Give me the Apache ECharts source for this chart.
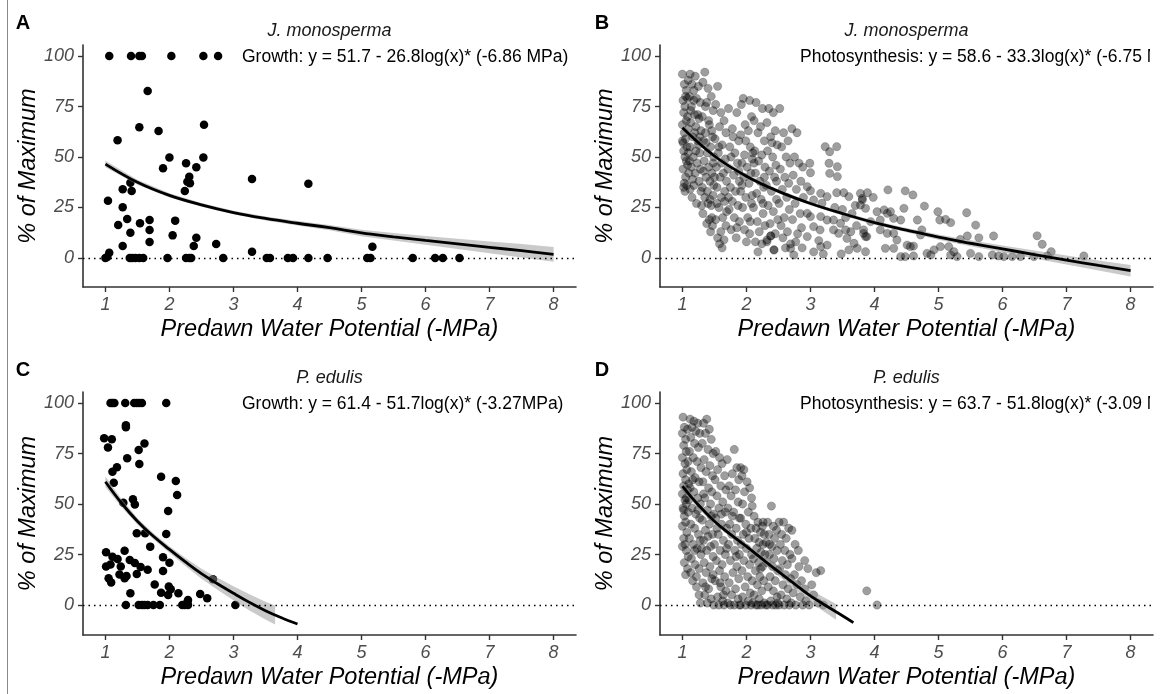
<!DOCTYPE html>
<html><head><meta charset="utf-8">
<script src="https://cdn.jsdelivr.net/npm/echarts@6/dist/echarts.min.js"></script>
<style>html,body{margin:0;padding:0;background:#fff}#c{width:1160px;height:694px}</style>
</head><body><div id="c"></div>
<script>
// ---------- text & ticks ----------
const xTicks = [1,2,3,4,5,6,7,8];
const yTicks = [0,25,50,75,100];
const panelTags = ['A','B','C','D'];
const speciesTitles = ['J. monosperma','J. monosperma','P. edulis','P. edulis'];
const fitLabels = [
  'Growth: y = 51.7 - 26.8log(x)* (-6.86 MPa)',
  'Photosynthesis: y = 58.6 - 33.3log(x)* (-6.75 MPa)',
  'Growth: y = 61.4 - 51.7log(x)* (-3.27MPa)',
  'Photosynthesis: y = 63.7 - 51.8log(x)* (-3.09 MPa)'
];
const xTitle = 'Predawn Water Potential (-MPa)';
const yTitle = '% of Maximum';

// ---------- data: [water potential, % of max] ----------
const jmGrowth = [
[1.06,100],[1.40,100],[1.53,100],[1.57,100],[2.03,100],[2.53,100],[2.76,100],
[1.66,82.7],[1.53,64.7],[1.83,62.9],[2.54,66],[1.19,58.3],[2.0,49.8],[2.53,49.8],[1.90,44.4],[2.26,46.9],
[2.42,44.9],[2.31,40.2],[2.28,37.8],[2.32,37],[2.24,33.2],[3.29,39.1],[4.17,36.8],[1.39,37.3],[1.27,34],
[1.41,33.2],[1.04,28.4],[1.27,25.1],[1.20,16.3],[1.34,19.3],[1.54,17.2],[1.69,18.8],[1.69,13.9],[2.09,18.5],
[1.39,12.5],[2.05,11.2],[1.69,7.9],[2.42,10],[2.38,5.9],[2.73,6.9],[1.27,5.9],[3.29,3.1],[5.17,5.6],[1.06,2.6],[1.03,0.5],
[1.0,0],[1.38,0],[1.42,0],[1.47,0],[1.53,0],[1.59,0],[1.97,0],[2.26,0],[2.31,0],[2.34,0],[2.84,0],[3.52,0],
[3.57,0],[3.85,0],[3.93,0],[4.17,0],[4.47,0],[5.09,0],[5.14,0],[5.80,0],[6.15,0],[6.27,0],[6.53,0]
];
const jmPhoto = [
[1.00,91],[1.03,86],[1.05,80],[1.01,78],[1.04,75],[1.02,72],[1.06,68],[1.00,66],[1.03,62],[1.05,59],[1.01,57],[1.07,55],
[1.02,53],[1.04,50],[1.08,46],[1.01,44],[1.05,40],[1.03,37],[1.07,36],[1.02,35],[1.09,88],[1.06,83],[1.08,70],[1.09,64],
[1.00,58],[1.09,52],[1.06,48],[1.10,42],[1.04,33],[1.08,79],
[1.12,91],[1.20,90],[1.15,86],[1.25,85],[1.18,83],[1.11,80],[1.22,79],[1.28,77],[1.14,75],[1.19,71],[1.26,69],[1.13,67],
[1.21,65],[1.29,63],[1.16,60],[1.24,58],[1.12,55],[1.27,52],[1.17,50],[1.23,47],[1.14,45],[1.20,42],[1.26,38],[1.18,36],
[1.29,33],[1.15,30],[1.22,27],[1.13,73],[1.19,62],[1.25,56],[1.11,48],[1.28,44],[1.16,39],[1.21,53],[1.24,71],[1.18,78],
[1.27,60],[1.12,34],
[1.35,92],[1.32,87],[1.40,84],[1.45,80],[1.38,77],[1.48,73],[1.31,70],[1.42,66],[1.36,62],[1.47,60],[1.33,58],[1.44,55],
[1.39,52],[1.49,50],[1.34,48],[1.41,45],[1.46,42],[1.37,40],[1.43,38],[1.31,35],[1.48,31],[1.35,30],[1.40,27],[1.45,26],
[1.32,22],[1.42,19],[1.38,17],[1.47,16],[1.44,13],[1.36,75],[1.41,68],[1.46,63],[1.33,43],[1.49,36],[1.39,33],[1.43,29],
[1.30,26],[1.46,20],[1.37,57],[1.48,47],
[1.55,85],[1.52,76],[1.60,72],[1.65,68],[1.58,65],[1.68,62],[1.51,59],[1.62,56],[1.56,52],[1.67,49],[1.53,45],[1.64,42],
[1.59,40],[1.69,38],[1.54,35],[1.61,30],[1.66,28],[1.57,25],[1.63,20],[1.52,19],[1.68,16],[1.60,13],[1.55,10],[1.65,9],
[1.58,7],[1.62,5],[1.50,40],[1.66,33],[1.54,27],[1.69,23],[1.61,47],[1.57,55],
[1.72,74],[1.85,72],[1.78,64],[1.88,58],[1.74,55],[1.82,52],[1.76,50],[1.86,47],[1.71,44],[1.80,41],[1.89,38],[1.75,35],
[1.83,33],[1.78,28],[1.87,26],[1.73,24],[1.81,20],[1.89,18],[1.76,14],[1.84,10],[1.79,60],[1.88,43],[1.72,30],[1.85,15],
[1.95,79],[2.05,78],[1.92,76],[2.08,70],[1.98,66],[2.03,63],[1.91,61],[2.06,55],[1.97,51],[2.09,49],[1.93,47],[2.01,45],
[2.07,42],[1.96,40],[2.04,37],[1.91,33],[1.99,30],[2.08,27],[1.94,25],[2.02,20],[2.06,18],[1.97,14],[2.05,12],[2.00,8],
[2.10,52],[1.93,36],[2.09,31],[1.99,58],
[2.15,77],[2.25,74],[2.12,68],[2.22,65],[2.18,62],[2.28,58],[2.13,53],[2.24,51],[2.19,48],[2.29,45],[2.14,42],[2.21,38],
[2.27,35],[2.16,32],[2.23,29],[2.11,25],[2.26,22],[2.17,18],[2.29,16],[2.20,13],[2.14,8],[2.24,7],[2.18,3],[2.28,40],
[2.12,47],[2.26,27],
[2.35,74],[2.42,72],[2.32,67],[2.45,63],[2.38,60],[2.48,56],[2.33,53],[2.41,50],[2.46,46],[2.36,43],[2.44,40],[2.31,36],
[2.39,33],[2.47,29],[2.34,26],[2.42,23],[2.49,19],[2.37,17],[2.45,12],[2.32,8],[2.38,11],[2.43,4],[2.40,57],[2.47,38],
[2.52,74],[2.58,62],[2.65,58],[2.55,55],[2.62,50],[2.68,47],[2.53,44],[2.60,40],[2.66,37],[2.56,34],[2.63,30],[2.51,27],
[2.67,24],[2.59,20],[2.54,16],[2.64,13],[2.57,10],[2.69,7],[2.61,5],[2.74,1.5],[2.69,4.8],[2.71,64],[2.79,62],
[2.75,50],[2.82,47],[2.88,45],[2.73,41],[2.85,38],[2.78,34],[2.89,30],[2.76,27],[2.84,22],[2.72,19],[2.86,15],[2.80,12],
[2.77,8],[2.87,5],
[2.99,46.9],[3.0,42.2],[3.23,55.1],[3.30,52.6],[3.41,55.1],[3.29,46.9],[3.42,45.2],[3.30,41.9],[3.42,40.3],[2.95,35.3],
[3.0,33.3],[3.16,32],[3.26,30.4],[3.41,32.3],[3.52,32.3],[3.60,30.4],[3.81,28.7],[3.05,28.7],[3.18,27.1],[2.95,22.1],
[3.0,20.5],[3.16,20.5],[3.26,18.8],[3.36,18.8],[3.47,17.2],[3.55,13.9],[3.63,13],[3.83,12.2],[3.88,10.6],[3.36,13.9],
[3.44,12.2],[3.05,15.5],[3.15,13.9],[2.95,10.6],[3.13,8.6],[3.26,6.4],[3.16,5.6],[3.57,9.7],[3.68,7.3],[3.60,4],
[3.73,4.8],[3.86,3.1],[2.43,4],[2.32,8.9],[2.38,10.9],[3.50,24],[3.65,22],[3.70,26],[3.38,25],[3.55,20],[3.72,16],
[3.48,2],[3.20,2],[3.05,3],
[3.89,32.3],[3.98,30],[4.21,33.7],[4.48,33.2],[4.60,31.2],[4.78,25.7],[4.99,22.9],[5.44,22.4],[5.58,16.3],[5.02,18.8],
[5.11,19.1],[5.19,17.5],[6.54,11],[6.62,6.8],[6.76,3.1],[7.27,1],[5.86,10.9],[5.63,10],[5.45,10.9],[5.34,9.2],
[4.04,22.9],[4.15,23.8],[4.20,22.1],[4.25,22.9],[4.30,19.6],[4.09,18.8],[3.94,18],[3.83,13.9],[3.86,10.6],[4.09,13.9],
[4.20,12.2],[4.30,12.2],[4.35,8.9],[4.17,4.8],[4.30,4.8],[4.51,6.4],[4.56,5.6],[4.61,5.9],[4.74,13.9],[4.72,11.4],
[4.82,2.3],[4.88,1.5],[4.41,0.7],[4.48,0.7],[4.61,1],[4.93,4],[5.03,5.6],[5.16,5.6],[5.19,1.5],[5.24,3.1],[5.29,0.7],
[5.50,2.3],[5.63,0.7],[5.84,1.5],[5.94,1],[6.02,0.7],[6.15,0.7],[6.28,0.7],[6.49,0.7],[6.70,1],[4.46,24.6],[4.41,18.8],
[4.67,18.8],[3.86,24.6],[3.78,32],[3.81,29.5],[3.78,26.2]
];
const peGrowth = [
[1.08,100],[1.11,100],[1.14,100],[1.31,100],[1.45,100],[1.49,100],[1.53,100],[1.57,100],[1.95,100],
[1.32,89],[1.32,88],[0.98,82.5],[1.10,82],[1.04,78],[1.61,80],[1.52,76.7],[1.34,72.6],[1.53,69.8],[1.18,68.2],[1.11,66],
[1.13,60.5],[1.87,63.5],[2.10,61.4],[2.12,54.5],[1.98,46.5],[1.28,50.6],[1.43,52.3],[1.46,49.7],[1.49,35.5],[1.62,35.5],
[1.95,35.1],[1.70,28.9],[1.01,26.1],[1.11,23.9],[1.30,26.9],[1.19,22.8],[1.38,22.3],[1.01,19.1],[1.08,20.1],[1.24,19.1],
[1.46,20.8],[1.55,18.8],[1.66,17.4],[1.90,23.6],[2.0,20.9],[1.90,16.8],[1.05,13.2],[1.09,11.2],[1.22,15.1],[1.33,14.3],
[1.30,13.2],[1.49,15.3],[1.39,5.8],[1.77,10.2],[1.87,6.1],[1.99,9.1],[2.02,7.8],[1.98,5.0],[2.14,5.8],[2.48,5.4],
[2.59,3.3],[2.68,12.7],[2.29,2.5],[2.28,1.5],
[1.32,0],[1.52,0],[1.57,0],[1.61,0],[1.66,0],[1.75,0],[1.85,0],[2.20,0],[2.24,0],[2.29,0],[3.03,0]
];
const pePhoto = [
[1.01,93],[1.03,88],[1.00,85],[1.05,82],[1.02,79],[1.06,76],[1.00,73],[1.04,70],[1.07,67],[1.01,65],[1.05,62],[1.02,59],
[1.08,57],[1.00,55],[1.04,52],[1.06,50],[1.01,48],[1.09,46],[1.03,44],[1.05,41],[1.00,39],[1.07,36],[1.02,33],[1.04,30],
[1.00,29],[1.06,27],[1.09,24],[1.03,21],[1.08,18],[1.05,15],[1.10,60],[1.09,71],[1.08,87],[1.06,53],[1.02,47],
[1.12,92],[1.18,91],[1.24,90],[1.15,88],[1.21,86],[1.27,85],[1.13,83],[1.19,80],[1.25,78],[1.11,76],[1.17,73],[1.23,71],
[1.29,68],[1.14,66],[1.20,63],[1.26,61],[1.12,58],[1.18,56],[1.24,53],[1.28,50],[1.15,48],[1.21,45],[1.27,43],[1.13,40],
[1.19,38],[1.25,35],[1.11,33],[1.17,30],[1.23,28],[1.29,25],[1.14,23],[1.20,20],[1.26,18],[1.13,16],[1.16,12],[1.22,9],
[1.28,1],[1.26,5],[1.19,27],[1.24,47],[1.16,62],[1.28,32],[1.22,14],[1.10,52],
[1.38,92],[1.33,90],[1.42,87],[1.36,85],[1.45,82],[1.31,80],[1.40,77],[1.48,75],[1.34,72],[1.43,69],[1.37,66],[1.47,64],
[1.32,61],[1.41,58],[1.46,56],[1.35,53],[1.44,50],[1.39,47],[1.49,45],[1.31,42],[1.42,40],[1.36,37],[1.47,35],[1.33,32],
[1.44,29],[1.38,27],[1.48,24],[1.34,21],[1.43,19],[1.37,16],[1.46,13],[1.32,11],[1.41,8],[1.35,5],[1.45,3],[1.39,1],
[1.49,0],[1.30,28],[1.40,34],[1.45,44],[1.33,55],[1.48,15],[1.36,9],
[1.52,76],[1.58,73],[1.62,70],[1.55,67],[1.66,64],[1.51,62],[1.60,59],[1.68,57],[1.54,54],[1.63,51],[1.57,48],[1.67,46],
[1.52,43],[1.61,40],[1.69,38],[1.56,35],[1.64,32],[1.50,30],[1.59,27],[1.67,25],[1.53,22],[1.62,20],[1.58,17],[1.66,14],
[1.51,12],[1.60,9],[1.68,7],[1.55,4],[1.63,2],[1.57,0],[1.65,0],[1.70,72],[1.69,28],[1.54,38],[1.61,45],[1.64,5],[1.59,11],
[1.81,77],[1.85,68],[1.91,68],[1.78,65],[1.88,62],[1.73,59],[1.83,57],[1.76,54],[1.87,51],[1.71,48],[1.80,46],[1.89,43],
[1.74,40],[1.84,38],[1.77,35],[1.86,32],[1.72,30],[1.82,27],[1.89,25],[1.75,22],[1.85,19],[1.79,16],[1.88,13],[1.73,11],
[1.83,8],[1.77,5],[1.87,3],[1.71,1],[1.81,0],[1.89,0],[1.75,0],[1.84,24],[1.78,44],
[1.96,67],[1.93,64],[2.01,61],[2.05,58],[1.97,56],[2.08,53],[1.94,50],[2.09,49],[2.03,46],[1.91,43],[1.99,40],[2.07,38],
[1.95,35],[2.04,33],[1.92,30],[2.00,28],[2.08,25],[1.96,22],[2.05,20],[1.93,17],[2.02,14],[2.09,12],[1.98,9],[2.06,6],
[1.94,4],[2.03,2],[1.91,0],[1.99,0],[2.07,0],[2.10,1],[2.00,36],
[2.12,44],[2.18,41],[2.25,39],[2.15,38],[2.22,36],[2.28,35],[2.13,33],[2.20,31],[2.26,30],[2.16,28],[2.23,26],[2.29,25],
[2.11,23],[2.19,21],[2.25,19],[2.14,17],[2.21,14],[2.27,12],[2.17,10],[2.24,7],[2.12,5],[2.20,3],[2.28,1],[2.15,0],
[2.23,0],[2.30,0],[2.18,0],[2.26,41],[2.22,18],
[2.39,49],[2.33,41],[2.42,39],[2.47,37],[2.35,35],[2.44,33],[2.31,31],[2.40,29],[2.48,27],[2.36,25],[2.43,23],[2.32,21],
[2.41,19],[2.49,17],[2.37,14],[2.45,12],[2.34,9],[2.42,7],[2.48,4],[2.38,2],[2.33,0],[2.41,0],[2.46,0],[2.49,1],[2.36,30],
[2.51,41],[2.58,41],[2.66,38],[2.55,35],[2.62,33],[2.53,30],[2.60,27],[2.68,25],[2.56,22],[2.64,20],[2.52,18],[2.61,15],
[2.69,13],[2.57,10],[2.65,8],[2.54,5],[2.63,3],[2.59,0],[2.67,0],[2.51,0],[2.70,1],
[2.71,37],[2.71,23],[2.91,22],[2.82,19],[2.96,18],[2.75,15],[2.86,12],[2.79,10],[2.91,8],[2.73,6],[2.84,4],[2.93,2],
[2.77,0],[2.88,0],[2.98,0],[2.81,27],[2.76,30],
[3.09,16],[3.16,17],[3.05,5],[3.12,1],[3.20,0],[3.02,10],[3.88,7],[4.04,0]
];

// fitted curves [x, y] and confidence bands [x, lower, upper]
const jmGrowthFit = [[1,46.5],[1.5,37.5],[2,31],[2.5,26.3],[3,22.5],[3.5,19.6],[4,17.2],[4.5,15],[5,12.4],[5.5,10.5],[6,8.7],[6.5,7.0],[7,5.3],[7.5,3.6],[8,1.8]];
const jmGrowthBand = [[1,44.9,48.1],[1.5,36.3,38.7],[2,30,32],[2.5,25.4,27.2],[3,21.6,23.4],[3.5,18.6,20.6],[4,16.1,18.3],[4.5,13.7,16.3],[5,10.8,14.0],[5.5,8.6,12.4],[6,6.5,10.9],[6.5,4.5,9.5],[7,2.4,8.2],[7.5,0.3,6.9],[8,-1.8,5.4]];
const jmPhotoFit = [[1,64.5],[1.5,50.5],[2,40.5],[2.5,33],[3,27],[3.5,22],[4,17.5],[4.5,13.8],[5,10.3],[5.5,7.3],[6,4.5],[6.5,1.7],[7,-1],[7.5,-3.7],[8,-6.3]];
const jmPhotoBand = [[1,62.7,66.3],[1.5,49.3,51.7],[2,39.5,41.5],[2.5,32.1,33.9],[3,26.1,27.9],[3.5,21.1,22.9],[4,16.5,18.5],[4.5,12.7,14.9],[5,9.0,11.6],[5.5,5.8,8.8],[6,2.8,6.2],[6.5,-0.3,3.7],[7,-3.2,1.2],[7.5,-6.2,-1.2],[8,-9.1,-3.5]];
const peGrowthFit = [[1,61],[1.25,50.5],[1.5,41.5],[1.75,34],[2,27.5],[2.25,21.3],[2.5,15.5],[2.75,10.5],[3,5.8],[3.25,1.3],[3.5,-2.8],[3.75,-6.3],[4,-9.4]];
const peGrowthBand = [[1,58.4,63.6],[1.25,48.5,52.5],[1.5,39.9,43.1],[1.75,32.5,35.5],[2,25.9,29.1],[2.25,19.3,23.3],[2.5,13.0,18.0],[2.75,7.5,13.5],[3,2.3,9.3],[3.25,-2.7,5.3],[3.5,-7.2,1.6],[3.65,-9.6,-0.2]];
const pePhotoFit = [[1,58.9],[1.25,49.5],[1.5,41.5],[1.75,35],[2,29],[2.25,22.7],[2.5,16.5],[2.75,10.5],[3,4.5],[3.25,-0.5],[3.5,-5.3],[3.67,-8.7]];
const pePhotoBand = [[1,56.6,61.2],[1.25,47.7,51.3],[1.5,40,43],[1.75,33.7,36.3],[2,27.6,30.4],[2.25,21,24.4],[2.5,14.4,18.6],[2.75,7.9,13.1],[3,1.4,7.6],[3.25,-4.1,3.1],[3.4,-7.3,0.5]];

// ---------- layout ----------
const FONT = '"Liberation Sans", Arial, Helvetica, sans-serif';
const panels = [
  {left:83,  top:45,  height:242, ymin:-14.36, ymax:105.45, pts:jmGrowth, fit:jmGrowthFit, band:jmGrowthBand, solid:true},
  {left:660, top:45,  height:242, ymin:-14.36, ymax:105.45, pts:jmPhoto,  fit:jmPhotoFit,  band:jmPhotoBand,  solid:false},
  {left:83,  top:392, height:243, ymin:-14.85, ymax:105.45, pts:peGrowth, fit:peGrowthFit, band:peGrowthBand, solid:true},
  {left:660, top:392, height:243, ymin:-14.85, ymax:105.45, pts:pePhoto,  fit:pePhotoFit,  band:pePhotoBand,  solid:false}
];
const PW = 493;

const grid=[], xAxis=[], yAxis=[], series=[], graphic=[];
panels.forEach((p,i)=>{
  grid.push({left:p.left, top:p.top, width:PW, height:p.height});
  const axLine = {show:true, onZero:false, lineStyle:{color:'#333', width:1.6}};
  const axTick = {show:true, length:5, lineStyle:{color:'#333', width:1.4}};
  const lab = {color:'#4d4d4d', fontSize:18, fontStyle:'italic', fontFamily:FONT};
  xAxis.push({type:'value', gridIndex:i, min:0.65, max:8.35, axisLine:axLine,
    axisTick:Object.assign({customValues:xTicks}, axTick),
    axisLabel:Object.assign({customValues:xTicks, margin:9}, lab), splitLine:{show:false}});
  yAxis.push({type:'value', gridIndex:i, min:p.ymin, max:p.ymax, axisLine:axLine,
    axisTick:Object.assign({customValues:yTicks}, axTick),
    axisLabel:Object.assign({customValues:yTicks, margin:9}, lab), splitLine:{show:false}});
  series.push({type:'scatter', xAxisIndex:i, yAxisIndex:i, data:p.pts, symbolSize:p.solid?8.5:8.3,
    itemStyle: p.solid ? {color:'#000', opacity:1}
                       : {color:'rgba(0,0,0,0.38)', opacity:1, borderColor:'rgba(0,0,0,0.22)', borderWidth:0.8},
    z:2, silent:true,
    markLine:{silent:true, symbol:'none', label:{show:false},
      lineStyle:{color:'#000', type:[1.5,4], width:1.3}, data:[{yAxis:0}]}});
  const band = p.band;
  series.push({type:'custom', xAxisIndex:i, yAxisIndex:i, data:band, z:3, silent:true,
    encode:{x:0, y:[1,2]},
    renderItem:(params, api)=>{
      if (params.dataIndex !== 0) return null;
      const up = band.map(r=>api.coord([r[0], r[2]]));
      const lo = band.map(r=>api.coord([r[0], r[1]])).reverse();
      return {type:'polygon', shape:{points:up.concat(lo)}, style:{fill:'rgba(150,150,150,0.5)'}};
    }});
  series.push({type:'line', xAxisIndex:i, yAxisIndex:i, data:p.fit, smooth:0.4, showSymbol:false,
    lineStyle:{color:'#000', width:2.8}, z:4, silent:true});

  const cx = p.left + PW/2;
  const tagX = p.left < 300 ? 23 : 602;
  graphic.push({type:'text', x:tagX, y:p.top - 22, style:{text:panelTags[i], font:'bold 20px '+FONT, fill:'#000', align:'center', verticalAlign:'middle'}});
  graphic.push({type:'text', x:cx, y:p.top - 14.5, style:{text:speciesTitles[i], font:'italic 18px '+FONT, fill:'#1a1a1a', align:'center', verticalAlign:'middle'}});
  graphic.push({type:'text', x:p.left < 300 ? 242 : 800, y:p.top + 12, style:{text:fitLabels[i], font:'17.5px '+FONT, fill:'#000', align:'left', verticalAlign:'middle'}});
  graphic.push({type:'text', x:cx, y:p.top + p.height + 42, style:{text:xTitle, font:'italic 23.5px '+FONT, fill:'#000', align:'center', verticalAlign:'middle'}});
  graphic.push({type:'text', x:p.left - 55, y:p.top + p.height/2, rotation:Math.PI/2, style:{text:yTitle, font:'italic 23.5px '+FONT, fill:'#000', align:'center', verticalAlign:'middle'}});
});
// right-edge clipping of the long annotations, and left border rule
graphic.push({type:'rect', shape:{x:1150, y:40, width:10, height:32}, style:{fill:'#fff'}, z:200});
graphic.push({type:'rect', shape:{x:1150, y:387, width:10, height:32}, style:{fill:'#fff'}, z:200});
graphic.push({type:'line', shape:{x1:7.5, y1:0, x2:7.5, y2:694}, style:{stroke:'#8a8a8a', lineWidth:1}});

const chart = echarts.init(document.getElementById('c'), null, {renderer:'canvas'});
chart.setOption({animation:false, backgroundColor:'#fff', grid, xAxis, yAxis, series, graphic});
</script></body></html>
